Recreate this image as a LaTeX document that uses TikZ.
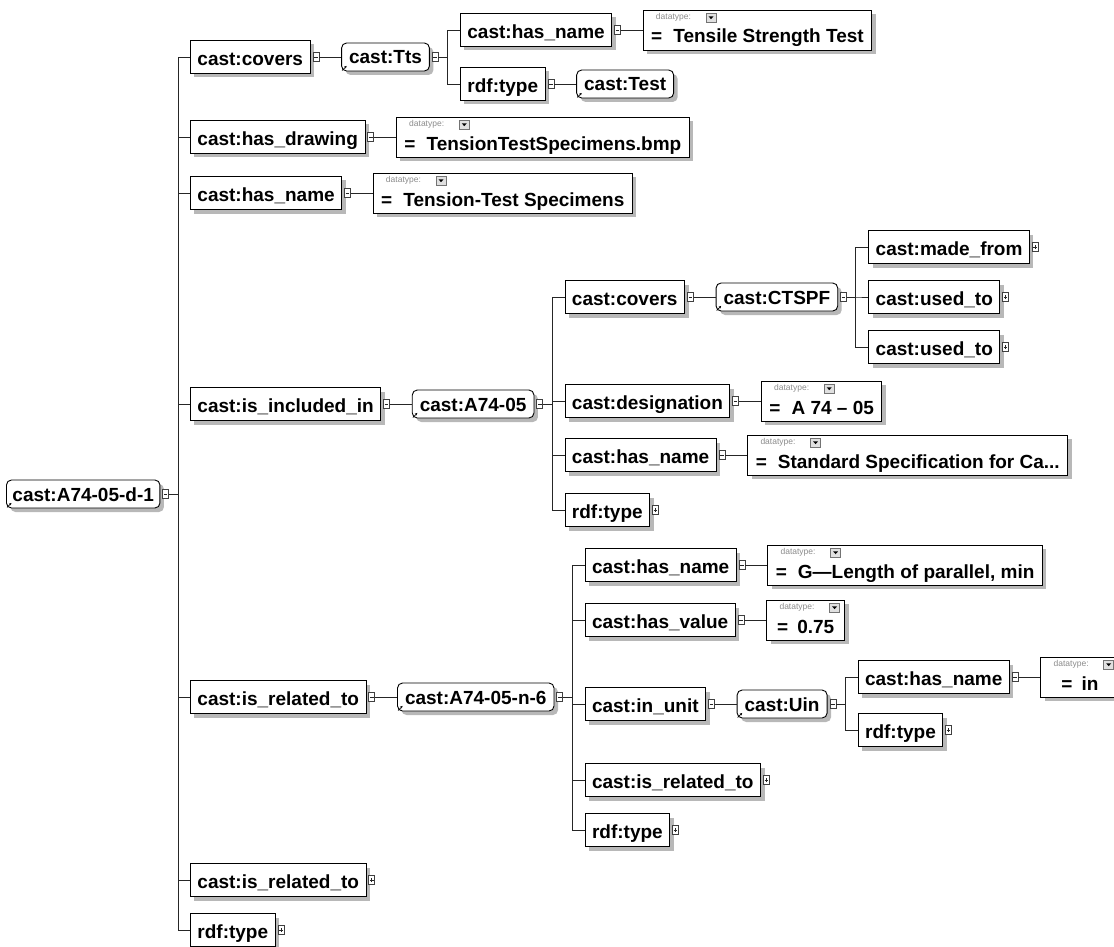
\documentclass[tikz,border=0pt]{standalone}
\usepackage{fontspec}
\setmainfont{Liberation Sans}
\usetikzlibrary{shadows,arrows.meta,calc}
\newcommand\propfont{\fontsize{19}{22}\selectfont\bfseries}
\newcommand\dtfont{\fontsize{8.5}{9}\selectfont}
\tikzset{
  shad/.style={general shadow={fill=black!28, shadow xshift=4pt, shadow yshift=-4pt}},
  prop/.style={shad, draw=black, fill=white, line width=0.9pt, anchor=west, font=\propfont,
    minimum height=33pt, inner xsep=7pt, inner ysep=0pt, text height=17pt, text depth=0pt},
  inst/.style={prop, rounded corners=5pt, minimum height=28pt, inner xsep=7.5pt,
    text height=14pt, text depth=0pt},
  dtbox/.style={shad, draw=black, fill=white, line width=0.9pt, anchor=west, font=\propfont,
    inner xsep=8pt, inner ysep=0pt, text height=33pt, text depth=7pt, minimum width=78pt},
  expbox/.style={draw=black!75, fill=white, line width=0.6pt, minimum width=6pt,
    minimum height=9pt, inner sep=0pt, anchor=west},
  conn/.style={draw=black!85, line width=0.9pt},
  ddbtn/.style={draw=black!55, fill=black!12, line width=0.5pt, minimum width=10pt,
    minimum height=9pt, inner sep=0pt, anchor=west},
  dtlbl/.style={font=\dtfont, text=black!45, anchor=west, inner sep=0pt},
  signline/.style={line width=0.6pt, draw=black!85},
}
\newcommand\expm[2]{%
  \node[expbox] (#1) at ([xshift=2pt]#2.east) {};
  \draw[signline] ([xshift=-1.8pt]#1.center) -- ([xshift=1.8pt]#1.center);}
\newcommand\expp[2]{\expm{#1}{#2}%
  \draw[signline] ([yshift=-2pt]#1.center) -- ([yshift=2pt]#1.center);}
\newcommand\dtdeco[1]{%
  \node[dtlbl] (#1l) at ([shift={(13,8)}]#1.north west) {datatype:};
  \node[ddbtn] (#1b) at ([shift={(63,8)}]#1.north west) {};
  \fill ([shift={(-2.5,-1.2)}]#1b.center) -- ([shift={(2.5,-1.2)}]#1b.center) -- ([shift={(0,1.6)}]#1b.center) -- cycle;}
\newcommand\linkicon[1]{%
  \draw[line width=0.7pt, -{Stealth[length=2.4pt,width=2.4pt]}] ([shift={(1,-1)}]#1.south west) -- ++(4.5,-4.5);}
\begin{document}
\begin{tikzpicture}[x=1pt,y=-1pt]
\useasboundingbox (0,0) rectangle (1114,947);
\clip (0,0) rectangle (1114,947);
\fill[white] (0,0) rectangle (1114,947);

% root
\node[inst, inner xsep=6pt] (root) at (6,494) {cast:A74-05-d-1};
\linkicon{root}
\expm{eR}{root}
\coordinate (cR) at ([xshift=21pt]eR.east);

% level 1
\node[prop] (n1) at (cR |- 0,57) {cast:covers};
\node[prop] (n2) at (cR |- 0,137) {cast:has\_drawing};
\node[prop] (n3) at (cR |- 0,193) {cast:has\_name};
\node[prop] (n4) at (cR |- 0,404) {cast:is\_included\_in};
\node[prop] (n5) at (cR |- 0,697) {cast:is\_related\_to};
\node[prop] (n6) at (cR |- 0,880) {cast:is\_related\_to};
\node[prop] (n7) at (cR |- 0,930) {rdf:type};
\expm{e1}{n1}\expm{e2}{n2}\expm{e3}{n3}\expm{e4}{n4}\expm{e5}{n5}
\expp{e6}{n6}\expp{e7}{n7}
\foreach \c in {n1,n2,n3,n4,n5,n6,n7} \draw[conn] (eR.east) -- ++(9,0) |- (\c.west);

% covers -> Tts
\node[inst] (tts) at ([xshift=22pt]e1.east) {cast:Tts};
\linkicon{tts}
\draw[conn] (e1.east) -- (tts.west);
\expm{eT}{tts}
\coordinate (cT) at ([xshift=21.5pt]eT.east);
\node[prop] (n11) at (cT |- 0,30) {cast:has\_name};
\node[prop] (n12) at (cT |- 0,84) {rdf:type};
\foreach \c in {n11,n12} \draw[conn] (eT.east) -- ++(9,0) |- (\c.west);
\expm{e11}{n11}\expm{e12}{n12}
\node[dtbox] (d11) at ([xshift=22pt]e11.east) {=\hspace{11pt}Tensile Strength Test\hspace{4pt}};
\dtdeco{d11}
\draw[conn] (e11.east) -- (d11.west);
\node[inst] (test) at ([xshift=22pt]e12.east) {cast:Test};
\linkicon{test}
\draw[conn] (e12.east) -- (test.west);

% has_drawing, has_name
\node[dtbox] (d2) at ([xshift=22pt]e2.east) {=\hspace{11pt}TensionTestSpecimens.bmp\hspace{4pt}};
\dtdeco{d2}
\draw[conn] (e2.east) -- (d2.west);
\node[dtbox] (d3) at ([xshift=22pt]e3.east) {=\hspace{11pt}Tension-Test Specimens\hspace{4pt}};
\dtdeco{d3}
\draw[conn] (e3.east) -- (d3.west);

% is_included_in -> A74-05
\node[inst] (a) at ([xshift=22pt]e4.east) {cast:A74-05};
\linkicon{a}
\draw[conn] (e4.east) -- (a.west);
\expm{eA}{a}
\coordinate (cA) at ([xshift=21.5pt]eA.east);
\node[prop] (n41) at (cA |- 0,297) {cast:covers};
\node[prop] (n42) at (cA |- 0,401) {cast:designation};
\node[prop] (n43) at (cA |- 0,455) {cast:has\_name};
\node[prop] (n44) at (cA |- 0,510) {rdf:type};
\foreach \c in {n41,n42,n43,n44} \draw[conn] (eA.east) -- ++(9,0) |- (\c.west);
\expm{e41}{n41}\expm{e42}{n42}\expm{e43}{n43}\expp{e44}{n44}
\node[inst] (ctspf) at ([xshift=22pt]e41.east) {cast:CTSPF};
\linkicon{ctspf}
\draw[conn] (e41.east) -- (ctspf.west);
\expm{eC}{ctspf}
\coordinate (cC) at ([xshift=21.5pt]eC.east);
\node[prop] (n411) at (cC |- 0,247) {cast:made\_from};
\node[prop] (n412) at (cC |- 0,297) {cast:used\_to};
\node[prop] (n413) at (cC |- 0,347) {cast:used\_to};
\foreach \c in {n411,n412,n413} \draw[conn] (eC.east) -- ++(9,0) |- (\c.west);
\expp{e411}{n411}\expp{e412}{n412}\expp{e413}{n413}
\node[dtbox] (d42) at ([xshift=22pt]e42.east) {=\hspace{11pt}A 74 – 05\hspace{4pt}};
\dtdeco{d42}
\draw[conn] (e42.east) -- (d42.west);
\node[dtbox] (d43) at ([xshift=22pt]e43.east) {=\hspace{11pt}Standard Specification for Ca...\hspace{4pt}};
\dtdeco{d43}
\draw[conn] (e43.east) -- (d43.west);

% is_related_to -> A74-05-n-6
\node[inst] (nn) at ([xshift=22pt]e5.east) {cast:A74-05-n-6};
\linkicon{nn}
\draw[conn] (e5.east) -- (nn.west);
\expm{eN}{nn}
\coordinate (cN) at ([xshift=21.5pt]eN.east);
\node[prop] (n51) at (cN |- 0,565) {cast:has\_name};
\node[prop] (n52) at (cN |- 0,620) {cast:has\_value};
\node[prop] (n53) at (cN |- 0,704) {cast:in\_unit};
\node[prop] (n54) at (cN |- 0,780) {cast:is\_related\_to};
\node[prop] (n55) at (cN |- 0,830) {rdf:type};
\foreach \c in {n51,n52,n53,n54,n55} \draw[conn] (eN.east) -- ++(9,0) |- (\c.west);
\expm{e51}{n51}\expm{e52}{n52}\expm{e53}{n53}\expp{e54}{n54}\expp{e55}{n55}
\node[dtbox] (d51) at ([xshift=22pt]e51.east) {=\hspace{11pt}G—Length of parallel, min\hspace{4pt}};
\dtdeco{d51}
\draw[conn] (e51.east) -- (d51.west);
\node[dtbox] (d52) at ([xshift=22pt]e52.east) {=\hspace{9pt}0.75\hspace{4pt}};
\dtdeco{d52}
\draw[conn] (e52.east) -- (d52.west);
\node[inst] (uin) at ([xshift=22pt]e53.east) {cast:Uin};
\linkicon{uin}
\draw[conn] (e53.east) -- (uin.west);
\expm{eU}{uin}
\coordinate (cU) at ([xshift=21.5pt]eU.east);
\node[prop] (n531) at (cU |- 0,677) {cast:has\_name};
\node[prop] (n532) at (cU |- 0,730) {rdf:type};
\foreach \c in {n531,n532} \draw[conn] (eU.east) -- ++(9,0) |- (\c.west);
\expm{e531}{n531}\expp{e532}{n532}
\node[dtbox] (d531) at ([xshift=22pt]e531.east) {=\hspace{9pt}in\hspace{4pt}};
\dtdeco{d531}
\draw[conn] (e531.east) -- (d531.west);
\end{tikzpicture}
\end{document}
